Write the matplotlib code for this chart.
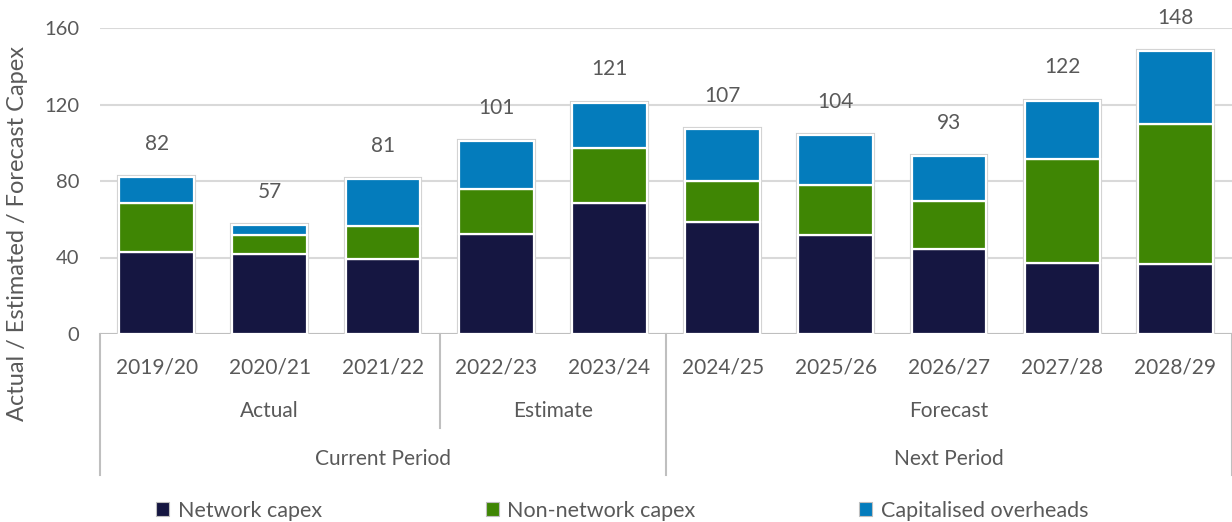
import numpy as np
import matplotlib
matplotlib.use("Agg")
from matplotlib import pyplot as plt
from matplotlib.patches import Patch

years = ['2019/20', '2020/21', '2021/22', '2022/23', '2023/24',
         '2024/25', '2025/26', '2026/27', '2027/28', '2028/29']
network = [43, 42, 39, 52.5, 68.5, 58.5, 52, 44.5, 37, 36.5]
non_network = [25.5, 10, 17.5, 23.5, 28.5, 21.5, 26, 25, 54.5, 73.5]
overheads = [13.5, 5, 24.5, 25, 24, 27, 26, 23.5, 30.5, 38]
totals = [82, 57, 81, 101, 121, 107, 104, 93, 122, 148]

groups = [('Actual', 0, 2), ('Estimate', 3, 4), ('Forecast', 5, 9)]
periods = [('Current Period', 0, 4), ('Next Period', 5, 9)]

series_names = ['Network capex', 'Non-network capex', 'Capitalised overheads']
colors = ['#151641', '#3f8604', '#047cbc']
txt = '#595959'
grid_c = '#d9d9d9'
box_c = '#bfbfbf'

plt.rcParams['font.family'] = ['Lato', 'DejaVu Sans']

fig = plt.figure(figsize=(12.32, 5.22), dpi=100)
ax = fig.add_axes([100 / 1232, 188 / 522, 1132 / 1232, 306 / 522])

x = np.arange(len(years))
w = 0.66

# grey outline behind each stack
ax.bar(x, totals, w, color='none', edgecolor='#cfcfcf', linewidth=3, zorder=2)
bottom = np.zeros(len(years))
for vals, name, c in zip([network, non_network, overheads], series_names, colors):
    ax.bar(x, vals, w, bottom=bottom, color=c, edgecolor='white', linewidth=1.6,
           label=name, zorder=3)
    bottom += np.array(vals)

for xi, t in zip(x, totals):
    ax.annotate(str(t), (xi, t), xytext=(0, 24), textcoords='offset points',
                ha='center', va='center', fontsize=15, color=txt)

ax.set_xlim(-0.5, len(years) - 0.5)
ax.set_ylim(0, 160)
ax.set_yticks([0, 40, 80, 120, 160])
ax.tick_params(axis='y', length=0, labelsize=14.5, labelcolor=txt, pad=15)
ax.set_xticks([])
ax.grid(axis='y', color=grid_c, linewidth=1.5, zorder=0)
ax.set_axisbelow(True)
for s in ax.spines.values():
    s.set_visible(False)
ax.axhline(0, color=box_c, linewidth=1.5, zorder=1)

ax.set_ylabel('Actual / Estimated / Forecast Capex', fontsize=17, color=txt)
ax.yaxis.set_label_coords(-0.0636, 0.33)

# multi-level category axis
tr = ax.get_xaxis_transform()
y_year, y_grp, y_per = -0.108, -0.252, -0.408
for xi, yr in zip(x, years):
    ax.text(xi, y_year, yr, transform=tr, ha='center', va='center',
            fontsize=15, color=txt)
for name, a, b in groups:
    ax.text((a + b) / 2, y_grp, name, transform=tr, ha='center', va='center',
            fontsize=15, color=txt)
for name, a, b in periods:
    ax.text((a + b) / 2, y_per, name, transform=tr, ha='center', va='center',
            fontsize=15, color=txt)

long_lines = [-0.5, 4.5, 9.5]
short_lines = [2.5]
for xl in long_lines:
    ax.plot([xl, xl], [0, -0.461], transform=tr, color=box_c, lw=1.5,
            clip_on=False)
for xl in short_lines:
    ax.plot([xl, xl], [0, -0.307], transform=tr, color=box_c, lw=1.5,
            clip_on=False)

handles = [Patch(facecolor=c, edgecolor='#bfbfbf', linewidth=0.8) for c in colors]
fig.legend(handles, series_names, loc='center', bbox_to_anchor=(0.505, 0.022),
           ncol=3, frameon=False, fontsize=15.5, labelcolor=txt,
           handlelength=0.6, handleheight=0.6, handletextpad=0.4,
           columnspacing=7.6)

fig.savefig('out.png', dpi=100)
